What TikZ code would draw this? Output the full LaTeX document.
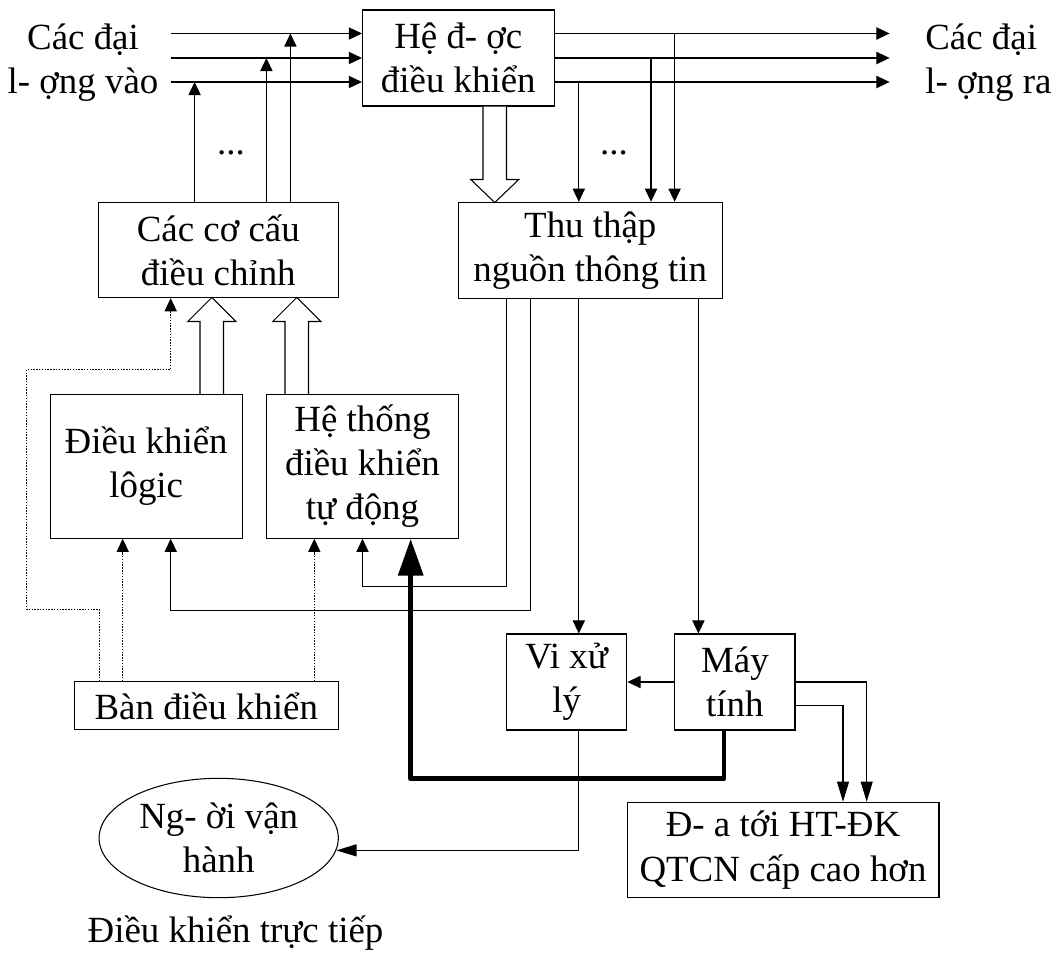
\documentclass[tikz,border=0pt]{standalone}
\usepackage{fontspec}
\setmainfont{Liberation Serif}
\usetikzlibrary{arrows.meta, shapes.geometric, positioning}
\tikzset{
    block/.style={rectangle, draw=black, line width=0.6pt, inner sep=0pt, align=center},
    oval/.style={ellipse, draw=black, line width=0.6pt, inner sep=0pt, align=center},
    textlabel/.style={inner sep=0pt},
    arrow/.style={line width=0.6pt, -{Triangle[length=7.5pt, width=7pt]}},
    longarrow/.style={line width=0.6pt, -{Triangle[length=11.5pt, width=6.8pt]}},
    dotarrow/.style={arrow, line width=0.5pt, dash pattern=on 0.8pt off 0.8pt},
    thickarrow/.style={line width=2.8pt, line join=round, -{Triangle[length=21pt, width=14pt]}},
    hollow/.style={draw=black, line width=0.6pt, fill=white, line join=miter}
}

\begin{document}
\begin{tikzpicture}[x=0.02cm, y=-0.02cm, font=\fontsize{21}{25.2}\selectfont]
    \useasboundingbox (0,0) rectangle (1053,953);

    % blocks
    \node (plant) [block, minimum width=3.834cm, minimum height=1.92cm] at (458.3,58) {Hệ đ- ợc\\điều khiển};
    \node (actuators) [block, minimum width=4.8cm, minimum height=1.908cm] at (218.3,250) {Các cơ cấu\\điều chỉnh};
    \node (collect) [block, minimum width=5.28cm, minimum height=1.92cm] at (590.3,250.3) {Thu thập\\nguồn thông tin};
    \node (logic) [block, minimum width=3.846cm, minimum height=2.88cm] at (146.2,466.3) {Điều khiển\\lôgic};
    \node (auto) [block, minimum width=3.832cm, minimum height=2.88cm] at (362.5,466.3) {Hệ thống\\điều khiển\\tự động};
    \node (panel) [block, minimum width=5.28cm, minimum height=0.966cm] at (206.3,705.8) {Bàn điều khiển};
    \node (cpu) [block, minimum width=2.412cm, minimum height=1.92cm] at (566.6,682) {Vi xử\\lý};
    \node (computer) [block, minimum width=2.404cm, minimum height=1.92cm] at (734.9,682) {Máy\\tính};
    \node (upper) [block, minimum width=6.24cm, minimum height=1.908cm] at (783,850) {Đ- a tới HT-ĐK\\QTCN cấp cao hơn};
    \node (operator) [oval, minimum width=4.786cm, minimum height=2.388cm] at (218.7,838) {Ng- ời vận\\hành};

    % labels
    \node (inlabel) [textlabel, align=center] at (83,63) {Các đại\\l- ợng vào};
    \node (outlabel) [textlabel, align=left, anchor=west] at (925,63) {Các đại\\l- ợng ra};
    \node (dotsin) [textlabel] at (231,153) {...};
    \node (dotsout) [textlabel] at (614,153) {...};
    \node (direct) [textlabel] at (235.5,933) {Điều khiển trực tiếp};

    % inputs and outputs
    \foreach \i/\y in {1/33.5, 2/58, 3/82} {
        \coordinate (in\i) at (170.7,\y);
        \coordinate (out\i) at (889.6,\y);
        \draw [arrow] (in\i) -- (in\i -| plant.west);
        \draw [arrow] (out\i -| plant.east) -- (out\i);
    }

    % actuators act on the inputs
    \coordinate (a1) at ([shift={(-23.7,0)}]actuators.north);
    \coordinate (a2) at ([shift={(48.1,0)}]actuators.north);
    \coordinate (a3) at ([shift={(72.1,0)}]actuators.north);
    \draw [arrow] (a1) -- (a1 |- in3);
    \draw [arrow] (a2) -- (a2 |- in2);
    \draw [arrow] (a3) -- (a3 |- in1);

    % outputs measured
    \coordinate (c1) at ([shift={(-11.5,0)}]collect.north);
    \coordinate (c2) at ([shift={(60.7,0)}]collect.north);
    \coordinate (c3) at ([shift={(84.3,0)}]collect.north);
    \draw [arrow] (c1 |- out3) -- (c1);
    \draw [arrow] (c2 |- out2) -- (c2);
    \draw [arrow] (c3 |- out1) -- (c3);

    % wide arrows
    \draw [hollow] ([shift={(24.7,0)}]plant.south) -- ++(0,73) -- ++(-12.25,0) -- ++(24,23) -- ++(24,-23) -- ++(-12.25,0) -- ++(0,-73);
    \foreach \n/\s in {logic/53.8, auto/-77.5}
        \draw [hollow] ([shift={(\s,0)}]\n.north) -- ++(0,-72.3) -- ++(-12.25,0) -- ++(24,-24) -- ++(24,24) -- ++(-12.25,0) -- ++(0,72.3);

    % information paths
    \coordinate (k1) at ([shift={(-11.5,0)}]collect.south);
    \coordinate (k2) at ([shift={(108.1,0)}]collect.south);
    \draw [arrow] (k1) -- (k1 |- cpu.north);
    \draw [arrow] (k2) -- (k2 |- computer.north);
    \draw [arrow] ([shift={(-83.8,0)}]collect.south) -- ++(0,287.4) -| (auto.south);
    \draw [arrow] ([shift={(-59.6,0)}]collect.south) -- ++(0,311.7) -| ([shift={(24.5,0)}]logic.south);
    \draw [arrow] (computer.west) -- (cpu.east);
    \draw [longarrow] ([shift={(12.1,0)}]cpu.south) |- (operator.-6);
    \draw [longarrow] (computer.east) -| ([shift={(83.7,0)}]upper.north);
    \draw [longarrow] ([shift={(0,23.4)}]computer.east) -| ([shift={(60,0)}]upper.north);
    \draw [thickarrow] ([shift={(-10.9,0)}]computer.south) -- ++(0,48.3) -| ([shift={(48.2,0)}]auto.south);

    % manual control
    \coordinate (p1) at ([shift={(-83.6,0)}]panel.north);
    \coordinate (p2) at ([shift={(108,0)}]panel.north);
    \draw [dotarrow] (p1) -- (p1 |- logic.south);
    \draw [dotarrow] (p2) -- (p2 |- auto.south);
    \draw [dotarrow] ([shift={(-107.3,0)}]panel.north) -- ++(0,-71.7) -- ++(-72.3,0) -- ++(0,-240) -- ++(144,0) -- ([shift={(-47.6,0)}]actuators.south);
\end{tikzpicture}
\end{document}
